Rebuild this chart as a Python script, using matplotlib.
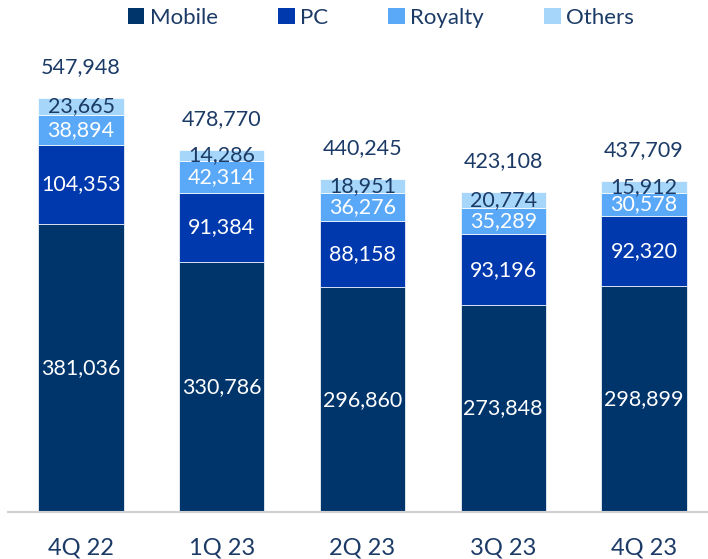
import numpy as np
import matplotlib
matplotlib.use("Agg")
import matplotlib.pyplot as plt
from matplotlib.patches import Patch

plt.rcParams['font.family'] = ['Lato', 'DejaVu Sans']

quarters = ["4Q 22", "1Q 23", "2Q 23", "3Q 23", "4Q 23"]
mobile = [381036, 330786, 296860, 273848, 298899]
pc = [104353, 91384, 88158, 93196, 92320]
royalty = [38894, 42314, 36276, 35289, 30578]
others = [23665, 14286, 18951, 20774, 15912]
totals = [547948, 478770, 440245, 423108, 437709]

names = ["Mobile", "PC", "Royalty", "Others"]
colors = ["#00356B", "#0039AE", "#5AA9F8", "#A6D7FB"]
label_colors = ["white", "white", "white", "#1B3A66"]
text_col = "#1B3A66"

fig = plt.figure(figsize=(7.08, 5.59), dpi=100)
ax = fig.add_axes([8/708, 47/559, 700/708, 512/559])

x = np.arange(len(quarters))
bottom = np.zeros(len(quarters))
for series, name, c, lc in zip([mobile, pc, royalty, others], names, colors, label_colors):
    vals = np.array(series)
    ax.bar(x, vals, 0.605, bottom=bottom, color=c, edgecolor="white", linewidth=0.5)
    for xi, v, b in zip(x, vals, bottom):
        ax.text(xi, b + v / 2, f"{v:,}", ha="center", va="center",
                color=lc, fontsize=15.5)
    bottom = bottom + vals

for xi, t in zip(x, totals):
    ax.annotate(f"{t:,}", (xi, t), xytext=(0, 22), textcoords="offset points",
                ha="center", va="center", color=text_col, fontsize=15.5)

ax.set_xlim(-0.519, 4.455)
ax.set_ylim(0, 677000)
ax.set_xticks(x)
ax.set_xticklabels(quarters, fontsize=17, color=text_col)
ax.tick_params(axis="x", length=0, pad=18)
ax.set_yticks([])
for s in ["top", "right", "left"]:
    ax.spines[s].set_visible(False)
ax.spines["bottom"].set_color("#d0d0d0")
ax.spines["bottom"].set_linewidth(1.5)

handles = [Patch(facecolor=c, label=n) for c, n in zip(colors, names)]
fig.legend(handles=handles, loc="upper center", bbox_to_anchor=(381/708, 1.022),
           ncol=4, frameon=False, fontsize=16, handlelength=0.75, handleheight=0.75,
           handletextpad=0.25, columnspacing=2.7, labelcolor=text_col)

fig.savefig("out.png", dpi=100)
